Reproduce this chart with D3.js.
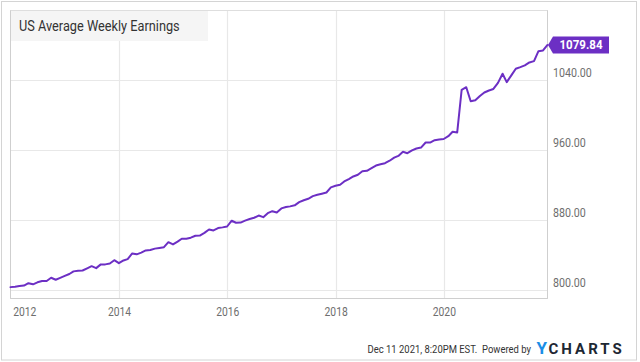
<!DOCTYPE html>
<html>
<head>
<meta charset="utf-8">
<script src="https://cdn.jsdelivr.net/npm/d3@7"></script>
<style>
  html, body { margin: 0; padding: 0; background: #fff; }
  svg { display: block; font-family: Roboto, "Noto Sans", Arial, sans-serif; }
</style>
</head>
<body>
<svg id="chart" width="640" height="362"></svg>
<script>
// ---- data ----
const title = "US Average Weekly Earnings";
const firstMonth = "2011-12";          // first observation (month-end dated)
const values = [
  803.0, 803.5, 804.3, 804.8, 807.5, 806.2, 808.5, 810.0, 810.0, 813.7,
  811.4, 813.5, 815.8, 818.0, 821.0, 821.7, 822.0, 824.5, 827.0, 824.7,
  829.0, 829.0, 830.0, 833.8, 830.4, 833.5, 835.0, 841.5, 840.5, 842.5,
  845.0, 845.5, 847.0, 847.8, 848.7, 854.4, 851.8, 855.0, 858.3, 858.3,
  859.5, 861.7, 862.0, 865.0, 868.9, 867.8, 870.5, 871.3, 872.3, 878.9,
  876.6, 876.8, 879.0, 880.8, 882.3, 884.8, 883.0, 887.5, 889.8, 888.3,
  893.0, 894.5, 895.3, 896.5, 900.1, 902.3, 904.0, 907.0, 908.5, 909.8,
  911.2, 917.0, 918.8, 920.0, 923.8, 926.5, 929.5, 931.5, 935.5, 936.0,
  939.0, 942.0, 943.5, 944.7, 947.5, 951.0, 953.0, 957.7, 956.1, 959.3,
  961.5, 962.5, 968.3, 968.3, 971.0, 971.8, 972.3, 975.5, 980.6, 979.8,
  1028.6, 1031.5, 1015.5, 1016.5, 1021.5, 1025.5, 1027.8, 1029.5, 1036.5, 1046.9,
  1037.3, 1045.0, 1052.6, 1054.5, 1056.5, 1059.8, 1061.3, 1072.7, 1073.5, 1079.84
];
const yTicks = [800, 880, 960, 1040];
const xTickYears = [2012, 2014, 2016, 2018, 2020];
const footerText = "Dec 11 2021, 8:20PM EST.  Powered by";

// ---- build dated series (month-end dates) ----
const parseMonth = d3.utcParse("%Y-%m");
const start = parseMonth(firstMonth);
const series = values.map((v, i) => {
  const d = d3.utcMonth.offset(start, i + 1);
  return { date: d3.utcDay.offset(d, -1), value: v };
});

// horizontally condense text (reference type is narrow)
function squeeze(sel, f) {
  sel.each(function () {
    const w = this.getComputedTextLength();
    this.setAttribute("textLength", (w * f).toFixed(1));
    this.setAttribute("lengthAdjust", "spacingAndGlyphs");
  });
}

// ---- layout ----
const svg = d3.select("#chart");
const plot = { left: 10.5, right: 547.5, top: 10.5, bottom: 298.5 };
const purple = "#6c2fc4";

const x = d3.scaleUtc()
  .domain([series[0].date, series[series.length - 1].date])
  .range([plot.left, plot.right]);
const y = d3.scaleLinear()
  .domain([790, 1119.2])
  .range([plot.bottom, plot.top]);

// outer frame
svg.append("rect")
  .attr("x", 1.5).attr("y", 1.5).attr("width", 635).attr("height", 358.5)
  .attr("fill", "#fff").attr("stroke", "#d4d4d4").attr("stroke-width", 1);

// gridlines
const grid = svg.append("g");
grid.selectAll("line.h").data(yTicks).enter().append("line")
  .attr("x1", plot.left).attr("x2", plot.right)
  .attr("y1", d => Math.round(y(d)) + 0.5).attr("y2", d => Math.round(y(d)) + 0.5)
  .attr("stroke", "#e8e8e8").attr("stroke-width", 1.2);
grid.selectAll("line.v").data(xTickYears.slice(1)).enter().append("line")
  .attr("x1", d => Math.round(x(Date.UTC(d, 0, 1))) + 0.5)
  .attr("x2", d => Math.round(x(Date.UTC(d, 0, 1))) + 0.5)
  .attr("y1", plot.top).attr("y2", plot.bottom)
  .attr("stroke", "#e8e8e8").attr("stroke-width", 1.2);

// plot frame
svg.append("rect")
  .attr("x", plot.left).attr("y", plot.top)
  .attr("width", plot.right - plot.left).attr("height", plot.bottom - plot.top)
  .attr("fill", "none").attr("stroke", "#dedede").attr("stroke-width", 1);
[[plot.right, plot.right, plot.top, plot.bottom],
 [plot.left, plot.right, plot.bottom, plot.bottom],
 [plot.left, plot.left, plot.top, plot.bottom]].forEach(([x1, x2, y1, y2]) => {
  svg.append("line").attr("x1", x1).attr("x2", x2).attr("y1", y1).attr("y2", y2)
    .attr("stroke", "#cfcfcf");
});

// title box
svg.append("rect")
  .attr("x", plot.left + 0.5).attr("y", plot.top + 0.5)
  .attr("width", 197).attr("height", 30)
  .attr("fill", "#f5f5f5");
svg.append("text")
  .attr("x", 19).attr("y", 31)
  .attr("font-size", 14).attr("fill", "#333")
  .text(title)
  .call(squeeze, 0.91);

// x axis labels
const xAxis = d3.axisBottom(x)
  .tickValues(xTickYears.map(yr => new Date(Date.UTC(yr, 0, 1))))
  .tickFormat(d3.utcFormat("%Y"))
  .tickSize(0).tickPadding(0);
const gx = svg.append("g").attr("transform", `translate(0,${plot.bottom})`).call(xAxis);
gx.select(".domain").remove();
gx.selectAll("text")
  .attr("y", 17.5).attr("dy", 0)
  .attr("font-size", 12).attr("fill", "#6e6e6e")
  .attr("font-family", "Roboto, sans-serif")
  .attr("text-anchor", (d, i) => i === 0 ? "start" : "middle")
  .attr("x", (d, i) => i === 0 ? 2 : 0)
  .call(squeeze, 0.86);

// y axis labels
const yAxis = d3.axisRight(y)
  .tickValues(yTicks)
  .tickFormat(d3.format(".2f"))
  .tickSize(0).tickPadding(0);
const gy = svg.append("g").attr("transform", `translate(${plot.right + 5.5},0)`).call(yAxis);
gy.select(".domain").remove();
gy.selectAll("text")
  .attr("x", 0).attr("dy", 0).attr("y", -3)
  .attr("font-size", 12).attr("fill", "#6e6e6e")
  .attr("font-family", "Roboto, sans-serif")
  .attr("text-anchor", "start")
  .call(squeeze, 0.89);

// line
const line = d3.line().x(d => x(d.date)).y(d => y(d.value)).curve(d3.curveLinear);
svg.append("path")
  .datum(series)
  .attr("d", line)
  .attr("fill", "none")
  .attr("stroke", purple)
  .attr("stroke-width", 2)
  .attr("stroke-linejoin", "round")
  .attr("stroke-linecap", "round");

// last value badge
const last = series[series.length - 1];
const ty = y(last.value), tx = plot.right + 0.5;
const bh = 17, bw = 56, aw = 5;
svg.append("path")
  .attr("d", `M${tx},${ty} L${tx + aw},${ty - bh / 2} L${tx + aw + bw},${ty - bh / 2} L${tx + aw + bw},${ty + bh / 2} L${tx + aw},${ty + bh / 2} Z`)
  .attr("fill", purple);
svg.append("text")
  .attr("x", tx + aw + bw / 2).attr("y", ty + 4.5)
  .attr("text-anchor", "middle")
  .attr("font-size", 12).attr("font-weight", "bold").attr("fill", "#fff")
  .text(d3.format(".2f")(last.value))
  .call(squeeze, 0.96);

// footer (condensed via transform)
svg.append("text")
  .attr("transform", "translate(531,353) scale(0.86,1)")
  .attr("x", 0).attr("y", 0)
  .attr("text-anchor", "end")
  .attr("font-size", 11).attr("fill", "#333")
  .attr("xml:space", "preserve")
  .text(footerText);

// logo as a single text element
const logo = svg.append("text")
  .attr("x", 536.5).attr("y", 353.5)
  .attr("font-weight", "bold");
logo.append("tspan")
  .attr("font-size", 17).attr("fill", "#1b8ee6")
  .attr("letter-spacing", 1.5)
  .text("Y");
logo.append("tspan")
  .attr("font-size", 15).attr("fill", "#1d2733")
  .attr("letter-spacing", 3)
  .text("CHARTS");
</script>
</body>
</html>
